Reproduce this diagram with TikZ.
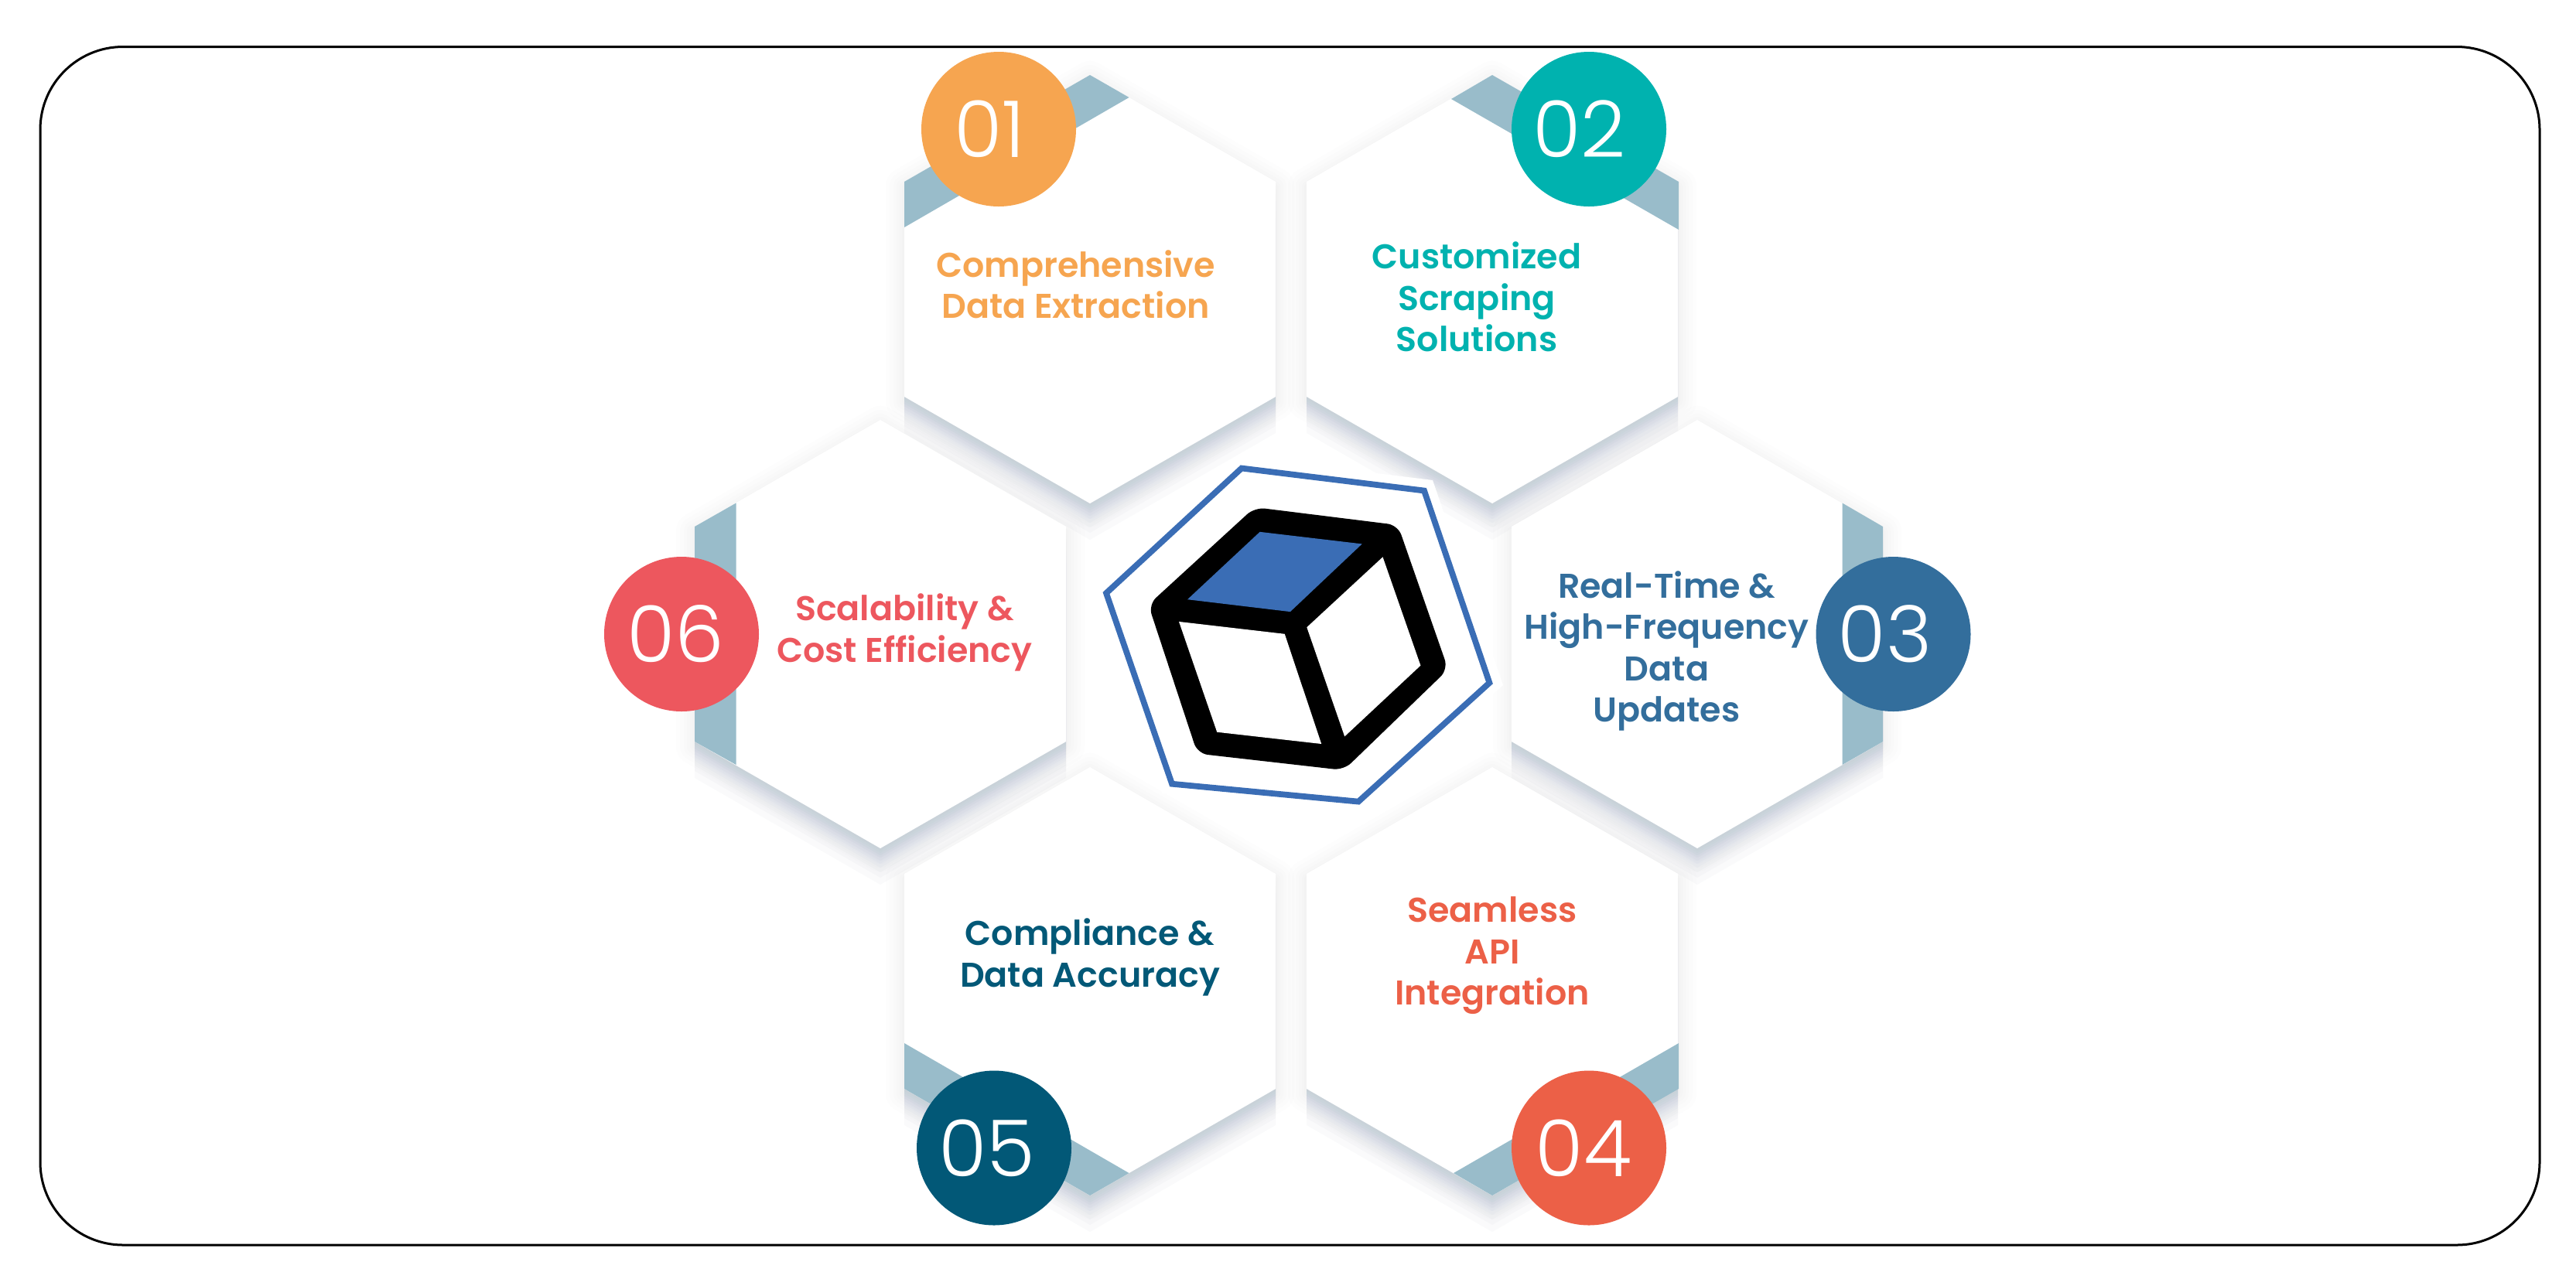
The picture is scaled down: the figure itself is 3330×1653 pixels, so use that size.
\documentclass[tikz,border=0pt]{standalone}
\usepackage{fontspec}
\setmainfont{Poppins}
\newfontfamily\psemi{Poppins SemiBold}
\newfontfamily\plight{Poppins Light}
\definecolor{cOne}{HTML}{F6A550}
\definecolor{cTwo}{HTML}{00B2AF}
\definecolor{cThree}{HTML}{336E9C}
\definecolor{cFour}{HTML}{EC6047}
\definecolor{cFive}{HTML}{025877}
\definecolor{cSix}{HTML}{ED575E}
\definecolor{ribbon}{HTML}{99BCCA}
\definecolor{cubeblue}{HTML}{3A6DB5}
\definecolor{shcol}{HTML}{8C9BB0}
\tikzset{
  x=.24pt,y=-.24pt,
  numdisc/.style={circle,minimum size=48pt,inner sep=0pt},
  numtext/.style={inner sep=0pt,text=white,font=\plight\fontsize{24.3}{26}\selectfont},
  lbl/.style={align=center,inner sep=0pt,font=\psemi\fontsize{10.65}{12.84}\selectfont},
  ribbonfill/.style={fill=ribbon}
}
\newcommand{\hexoutline}[2]{(#1-240,#2+138)--(#1,#2)--(#1+240,#2+138)--(#1+240,#2+416)--(#1,#2+554)--(#1-240,#2+416)--cycle}
\begin{document}
\begin{tikzpicture}
\useasboundingbox (0,0) rectangle (3330,1653);
\fill[white] (0,0) rectangle (3330,1653);
\draw[black,line width=.72pt,rounded corners=25.7pt] (52,60.5) rectangle (3283,1610);
% soft shadows
\foreach \cx/\ty in {1409/97,1929/97,2194/543,1138/543,1409/992,1929/992}{
  \foreach \s in {3,6,9,12,16,20,25,31,38,47}{
    \fill[shcol,fill opacity=.042] ([yshift=-\s*.24pt]\cx-240,\ty+138)--([yshift=-\s*.24pt]\cx,\ty)--([yshift=-\s*.24pt]\cx+240,\ty+138)--([yshift=-\s*.24pt]\cx+240,\ty+416)--([yshift=-\s*.24pt]\cx,\ty+554)--([yshift=-\s*.24pt]\cx-240,\ty+416)--cycle;
  }
  \foreach \r in {3,6,10,14,19,24}{
    \draw[shcol,draw opacity=.016,line join=round,line width=\r*.48pt] \hexoutline{\cx}{\ty+6};
  }
}
% hexagons
\foreach \cx/\ty in {1409/97,1929/97,2194/543,1138/543,1409/992,1929/992}{
  \fill[white] \hexoutline{\cx}{\ty};
}
% ribbons
\fill[ribbonfill] (1169,235)--(1409,97)--(1459.5,126)--(1169,294)--cycle;
\fill[ribbonfill] (1929,97)--(2170,235)--(2170,297)--(1876,128)--cycle;
\fill[ribbonfill] (2381.5,650.5)--(2434,681)--(2434,959)--(2381.5,989)--cycle;
\fill[ribbonfill] (898,681)--(951.5,650.5)--(951.5,989)--(898,959)--cycle;
\fill[ribbonfill] (1169,1349)--(1459.5,1517)--(1409,1546)--(1169,1408)--cycle;
\fill[ribbonfill] (2170,1349)--(2170,1408)--(1929,1546)--(1879,1517)--cycle;
% centre
\fill[white] (1603,590)--(1852,621)--(1943,886)--(1760,1050)--(1502,1026)--(1415,765)--cycle;
\draw[cubeblue,line width=1.85pt,miter limit=10] (1605,605.5)--(1841,634.5)--(1925.4,883)--(1756,1036.6)--(1515,1013.7)--(1430,767)--cycle;
\fill[black,rounded corners=3.2pt] (1622,656)--(1807,679)--(1872,865.5)--(1737,996)--(1548,974.5)--(1484.5,782)--cycle;
\fill[cubeblue] (1628.6,687.8)--(1760.7,703.4)--(1667.9,791.1)--(1535,775.2)--cycle;
\fill[white] (1524,803.9)--(1660.7,819.8)--(1708.2,962)--(1573.2,946.7)--cycle;
\fill[white] (1787.5,720.3)--(1836.4,860.6)--(1738.2,952.4)--(1689.3,811.2)--cycle;
% numbers
\node[numdisc,fill=cOne]   (n1) at (1291,167) {};
\node[numdisc,fill=cTwo]   (n2) at (2054,167) {};
\node[numdisc,fill=cThree] (n3) at (2447.5,820) {};
\node[numdisc,fill=cFour]  (n4) at (2054,1484.5) {};
\node[numdisc,fill=cFive]  (n5) at (1285,1484.5) {};
\node[numdisc,fill=cSix]   (n6) at (881,820) {};
\node[numtext] (d1) at ([xshift=-2.8pt]n1.center) {01};
\node[numtext] (d2) at ([xshift=-3pt]n2.center) {02};
\node[numtext] (d3) at ([xshift=-2.6pt]n3.center) {03};
\node[numtext] (d4) at ([xshift=-1.7pt]n4.center) {04};
\node[numtext] (d5) at ([xshift=-2.2pt]n5.center) {05};
\node[numtext] (d6) at ([xshift=-1.8pt]n6.center) {06};
% labels
\node[lbl,text=cOne]   (t1) at (1390.5,368) {Comprehensive\\Data Extraction};
\node[lbl,text=cTwo]   (t2) at (1909,384) {Customized\\Scraping\\Solutions};
\node[lbl,text=cThree] (t3) at (2154.5,842) {Real-Time \&\\High-Frequency\\Data\\Updates};
\node[lbl,text=cFour]  (t4) at (1929,1236) {Seamless\\API\\Integration};
\node[lbl,text=cFive]  (t5) at (1409,1238) {Compliance \&\\Data Accuracy};
\node[lbl,text=cSix]   (t6) at (1169.4,818) {Scalability \&\\Cost Efficiency};
\end{tikzpicture}
\end{document}
